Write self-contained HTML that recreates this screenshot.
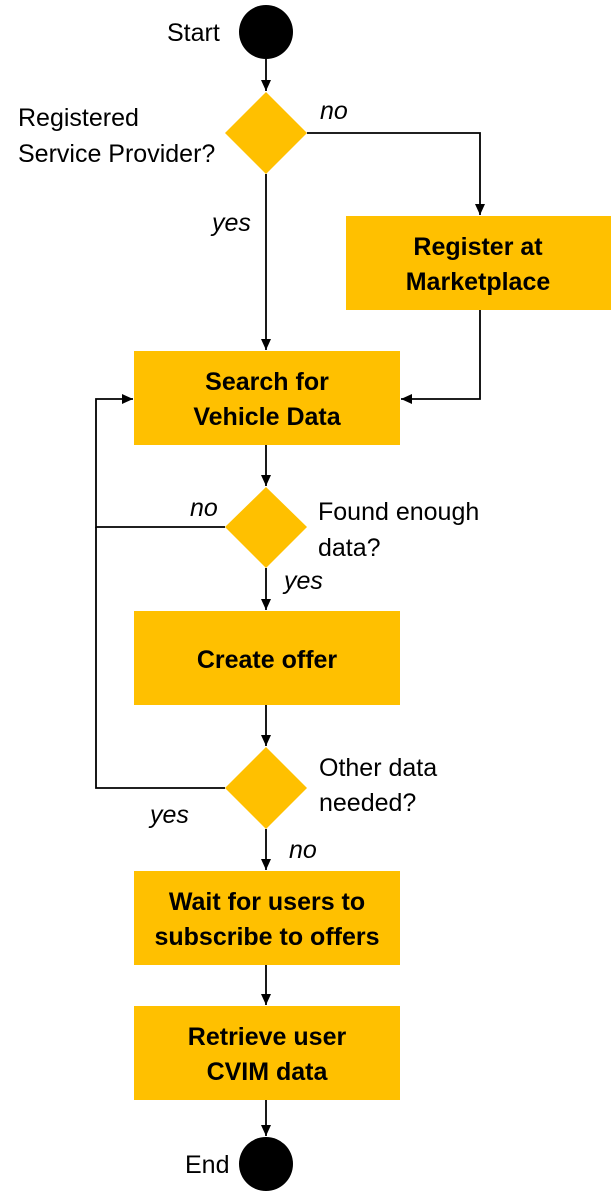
<!DOCTYPE html>
<html><head><style>
body{margin:0;background:#fff}
svg{display:block}
text{font-family:"Liberation Sans",sans-serif;font-size:25px;fill:#000}
.b{font-weight:bold;font-size:25px;text-anchor:middle}
.i{font-style:italic}
</style></head><body>
<svg width="611" height="1198" viewBox="0 0 611 1198">
<defs><marker id="a" markerWidth="12" markerHeight="12" refX="11" refY="5" orient="auto" markerUnits="userSpaceOnUse"><path d="M0,0 L11,5 L0,10 z" fill="#000"/></marker></defs>
<g stroke="#000" stroke-width="1.8" fill="none">
<line x1="266" y1="59" x2="266" y2="91" marker-end="url(#a)"/>
<polyline points="307,133 480,133 480,215" marker-end="url(#a)"/>
<line x1="266" y1="174" x2="266" y2="350" marker-end="url(#a)"/>
<polyline points="480,310 480,399 401,399" marker-end="url(#a)"/>
<line x1="266" y1="445" x2="266" y2="486" marker-end="url(#a)"/>
<polyline points="225,527 96,527 96,399 133,399" marker-end="url(#a)"/>
<line x1="266" y1="568" x2="266" y2="610" marker-end="url(#a)"/>
<line x1="266" y1="705" x2="266" y2="746" marker-end="url(#a)"/>
<polyline points="225,788 96,788 96,527"/>
<line x1="266" y1="829" x2="266" y2="870" marker-end="url(#a)"/>
<line x1="266" y1="965" x2="266" y2="1005" marker-end="url(#a)"/>
<line x1="266" y1="1100" x2="266" y2="1136" marker-end="url(#a)"/>
</g>
<circle cx="266" cy="32" r="27" fill="#000"/>
<circle cx="266" cy="1164" r="27" fill="#000"/>
<g fill="#FFC000">
<polygon points="266,92 307,133 266,174 225,133"/>
<polygon points="266,487 307,527 266,568 225,527"/>
<polygon points="266,747 307,788 266,829 225,788"/>
<rect x="346" y="216" width="265" height="94"/>
<rect x="134" y="351" width="266" height="94"/>
<rect x="134" y="611" width="266" height="94"/>
<rect x="134" y="871" width="266" height="94"/>
<rect x="134" y="1006" width="266" height="94"/>
</g>
<text class="b" x="478" y="255">Register at</text>
<text class="b" x="478" y="290">Marketplace</text>
<text class="b" x="267" y="390">Search for</text>
<text class="b" x="267" y="425">Vehicle Data</text>
<text class="b" x="267" y="668">Create offer</text>
<text class="b" x="267" y="910">Wait for users to</text>
<text class="b" x="267" y="945">subscribe to offers</text>
<text class="b" x="267" y="1045">Retrieve user</text>
<text class="b" x="267" y="1080">CVIM data</text>
<text x="167" y="41">Start</text>
<text x="185" y="1173">End</text>
<text x="18" y="126">Registered</text>
<text x="18" y="162">Service Provider?</text>
<text x="318" y="520">Found enough</text>
<text x="318" y="556">data?</text>
<text x="319" y="776">Other data</text>
<text x="319" y="811">needed?</text>
<text class="i" x="320" y="119">no</text>
<text class="i" x="212" y="231">yes</text>
<text class="i" x="190" y="516">no</text>
<text class="i" x="284" y="589">yes</text>
<text class="i" x="150" y="823">yes</text>
<text class="i" x="289" y="858">no</text>
</svg>
</body></html>
